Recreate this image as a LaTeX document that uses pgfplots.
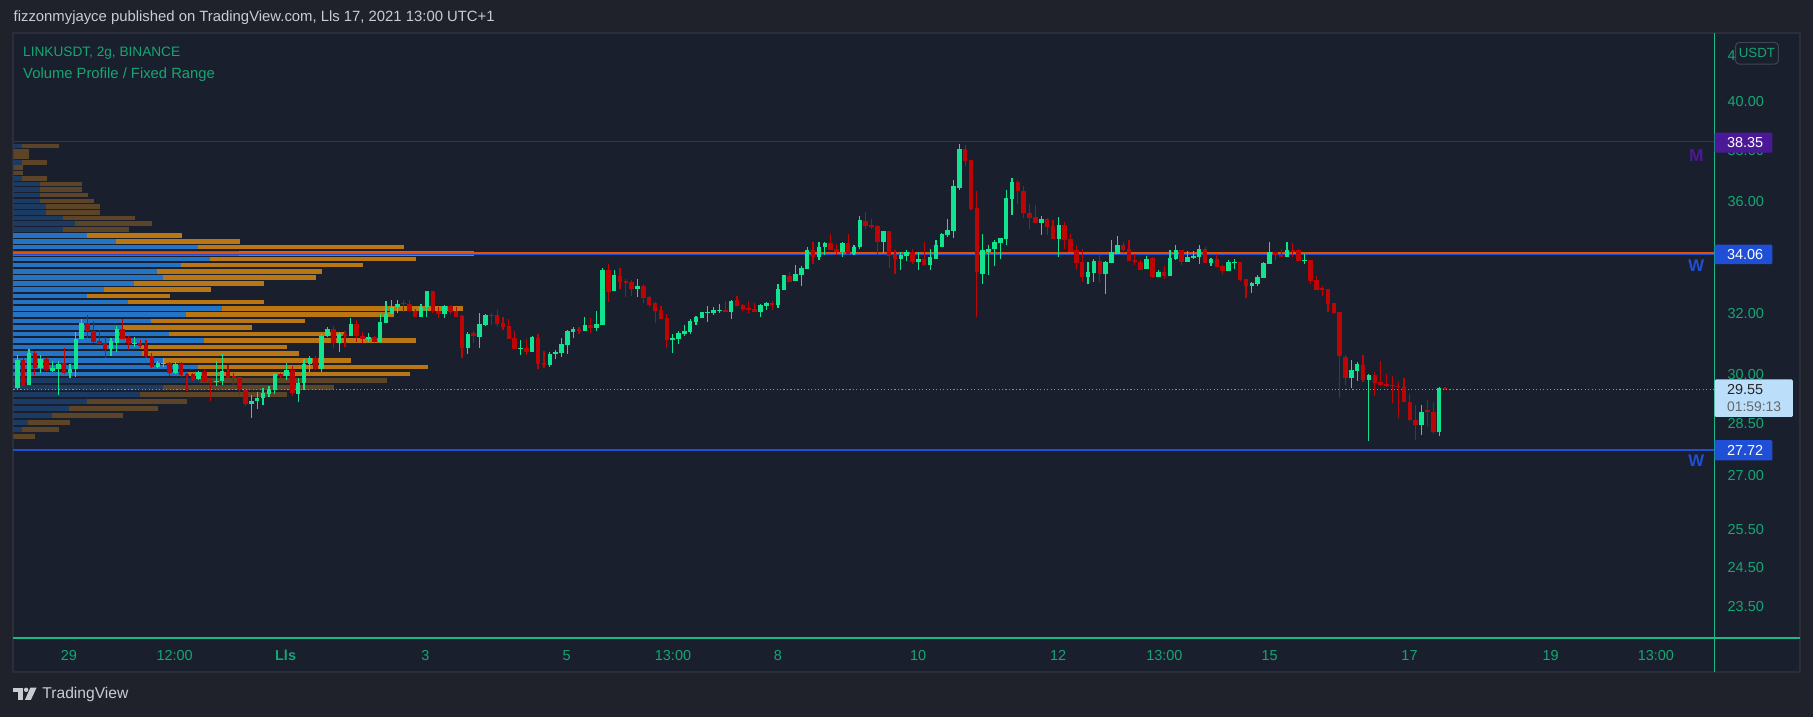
\documentclass[border=0pt]{standalone}
\usepackage{pgfplots}
\pgfplotsset{compat=1.18}
\usepackage{pgfplotstable}
\usepackage{fontspec}
\setmainfont{Liberation Sans}
\definecolor{outerbg}{HTML}{1F222B}
\definecolor{panebg}{HTML}{1A1F2E}
\definecolor{paneborder}{HTML}{2A2E39}
\definecolor{cgreen}{HTML}{10E48E}
\definecolor{cred}{HTML}{BE0505}
\definecolor{axgreen}{HTML}{1DB887}
\definecolor{tickgreen}{HTML}{14A673}
\definecolor{vpblue}{HTML}{2474C6}
\definecolor{vporange}{HTML}{BA7612}
\definecolor{vpblued}{HTML}{1C3B63}
\definecolor{vporanged}{HTML}{5B4427}
\definecolor{lpurple}{HTML}{4B1996}
\definecolor{lblue}{HTML}{1F4FD6}
\definecolor{lorange}{HTML}{E65100}
\definecolor{dotgray}{HTML}{8A8E99}
\definecolor{titlegray}{HTML}{C9CCD3}
\definecolor{curbox}{HTML}{BBDEFB}
\definecolor{boxborder}{HTML}{434651}

\pgfplotstableread{
i o h l c
0 29.59 30.64 29.54 30.48
1 30.48 30.53 29.59 29.64
2 29.69 30.82 29.69 30.69
3 30.69 30.77 30.00 30.21
4 30.21 30.63 30.07 30.50
5 30.50 30.55 30.14 30.16
6 30.14 30.44 30.11 30.23
7 30.19 30.44 29.36 30.34
8 30.37 30.87 30.02 30.07
9 30.07 30.34 29.90 30.19
10 30.18 31.39 29.95 31.16
11 31.15 31.82 31.15 31.67
12 31.67 31.94 31.19 31.42
13 31.42 31.75 31.02 31.06
14 31.08 31.46 30.98 31.00
15 31.02 31.22 30.55 30.83
16 30.83 31.19 30.61 31.09
17 31.04 31.59 30.72 31.48
18 31.48 31.81 31.16 31.16
19 31.20 31.26 30.80 31.02
20 31.01 31.22 30.90 31.04
21 31.02 31.13 30.85 30.94
22 30.96 31.13 30.55 30.61
23 30.62 30.71 30.23 30.26
24 30.26 30.44 30.21 30.37
25 30.34 30.53 30.26 30.39
26 30.37 30.40 29.98 30.07
27 30.07 30.40 30.03 30.34
28 30.34 30.40 29.93 30.00
29 30.02 30.07 29.49 29.98
30 30.02 30.07 29.80 29.88
31 29.87 30.14 29.85 30.08
32 30.08 30.16 29.78 29.78
33 29.82 29.90 29.18 29.78
34 29.77 30.44 29.64 29.80
35 29.80 30.67 29.69 30.13
36 30.08 30.32 29.90 29.92
37 29.97 30.05 29.69 29.92
38 29.93 29.93 29.38 29.52
39 29.54 29.56 29.03 29.09
40 29.11 29.38 28.67 29.20
41 29.18 29.47 28.95 29.29
42 29.27 29.59 29.06 29.44
43 29.42 29.66 29.30 29.54
44 29.52 30.07 29.42 30.04
45 30.04 30.07 29.90 29.98
46 29.98 30.37 29.85 30.16
47 30.16 30.29 29.33 29.43
48 29.42 29.90 29.15 29.75
49 29.75 30.50 29.54 30.34
50 30.34 30.61 30.08 30.53
51 30.53 30.61 30.16 30.20
52 30.20 31.33 30.08 31.26
53 31.26 31.55 31.21 31.48
54 31.48 31.59 30.88 31.04
55 31.02 31.38 30.75 31.32
56 31.33 31.42 30.91 31.27
57 31.27 31.84 31.27 31.65
58 31.65 31.79 31.07 31.27
59 31.27 31.38 31.02 31.16
60 31.16 31.35 31.05 31.22
61 31.22 31.26 31.05 31.07
62 31.07 31.99 31.01 31.72
63 31.70 32.43 31.70 31.99
64 31.98 32.46 31.98 32.24
65 32.23 32.46 32.03 32.32
66 32.35 32.46 32.05 32.31
67 32.32 32.46 32.05 32.08
68 32.10 32.17 31.87 31.90
69 31.90 32.34 31.88 32.24
70 32.23 32.76 31.90 32.76
71 32.76 32.78 32.02 32.08
72 32.10 32.23 31.84 31.99
73 32.00 32.30 31.86 32.27
74 32.25 32.30 31.99 32.07
75 32.09 32.23 31.87 31.90
76 31.92 31.97 30.55 30.85
77 30.85 31.37 30.67 31.33
78 31.34 31.43 31.02 31.24
79 31.21 32.02 30.88 31.65
80 31.62 31.99 31.57 31.94
81 31.96 32.02 31.63 31.94
82 31.94 32.12 31.56 31.65
83 31.67 31.87 31.44 31.56
84 31.59 31.82 31.16 31.16
85 31.19 31.43 30.83 30.83
86 30.85 31.13 30.64 30.87
87 30.86 31.16 30.64 30.74
88 30.74 31.24 30.73 31.23
89 31.20 31.33 30.19 30.36
90 30.38 30.77 30.23 30.32
91 30.32 30.75 30.26 30.67
92 30.68 30.80 30.50 30.74
93 30.70 31.19 30.58 31.00
94 30.97 31.44 30.67 31.43
95 31.40 31.54 31.20 31.49
96 31.49 31.56 31.31 31.43
97 31.43 31.88 31.43 31.62
98 31.62 31.85 31.34 31.53
99 31.53 32.08 31.43 31.65
100 31.62 33.56 31.62 33.49
101 33.49 33.71 32.40 32.74
102 32.76 33.49 32.76 33.32
103 33.29 33.56 32.84 33.08
104 33.12 33.20 32.57 33.05
105 33.08 33.15 32.59 32.84
106 32.84 33.18 32.56 32.94
107 32.94 33.01 32.37 32.54
108 32.56 32.59 32.23 32.28
109 32.35 32.39 31.70 32.08
110 32.12 32.25 31.82 31.82
111 31.85 31.99 30.87 31.11
112 31.11 31.31 30.71 31.20
113 31.16 31.43 31.00 31.36
114 31.33 31.62 31.24 31.43
115 31.39 31.82 31.33 31.76
116 31.73 31.92 31.62 31.89
117 31.85 32.05 31.85 32.05
118 32.02 32.25 31.72 32.05
119 32.03 32.22 31.95 32.12
120 32.10 32.32 32.03 32.12
121 32.12 32.42 32.05 32.06
122 32.06 32.46 31.82 32.42
123 32.46 32.59 32.25 32.25
124 32.29 32.34 32.10 32.15
125 32.20 32.42 32.02 32.12
126 32.15 32.35 32.05 32.05
127 32.05 32.33 31.88 32.28
128 32.25 32.38 32.12 32.36
129 32.35 32.42 32.12 32.28
130 32.28 33.00 32.19 32.83
131 32.80 33.32 32.80 33.32
132 33.28 33.42 33.08 33.09
133 33.11 33.67 33.11 33.35
134 33.32 33.63 32.94 33.56
135 33.53 34.31 33.53 34.20
136 34.20 34.49 33.70 33.95
137 33.95 34.52 33.84 34.34
138 34.31 34.49 34.03 34.45
139 34.45 34.81 34.20 34.20
140 34.24 34.42 34.03 34.16
141 34.16 34.52 33.96 34.45
142 34.45 34.78 34.06 34.06
143 34.06 34.38 34.02 34.34
144 34.31 35.48 34.27 35.33
145 35.29 35.60 35.00 35.11
146 35.14 35.36 35.00 35.07
147 35.11 35.14 34.02 34.52
148 34.52 34.92 34.10 34.92
149 34.89 34.89 33.56 33.99
150 34.02 34.20 33.35 33.91
151 33.91 34.13 33.49 34.02
152 33.99 34.20 33.81 34.13
153 34.13 34.24 33.70 33.77
154 33.77 34.13 33.49 33.91
155 33.91 34.49 33.63 33.67
156 33.67 34.24 33.49 33.95
157 33.91 34.56 33.91 34.38
158 34.34 34.85 34.34 34.81
159 34.77 35.36 34.70 34.96
160 34.92 36.85 34.67 36.58
161 36.54 38.27 36.46 38.06
162 38.06 38.23 37.39 37.59
163 37.63 37.63 35.70 35.74
164 35.78 36.39 31.88 33.42
165 33.38 34.81 33.00 34.20
166 34.16 34.38 33.32 34.27
167 34.24 34.56 33.63 34.49
168 34.45 34.67 33.91 34.67
169 34.63 36.46 34.41 36.16
170 36.12 36.92 35.52 36.76
171 36.76 36.85 35.93 36.39
172 36.42 36.61 35.40 35.56
173 35.56 35.93 34.99 35.40
174 35.44 35.86 35.22 35.22
175 35.22 35.48 34.77 35.36
176 35.36 35.40 34.77 35.07
177 35.11 35.33 34.63 34.63
178 34.63 35.44 33.95 35.14
179 35.14 35.25 34.27 34.56
180 34.60 34.78 34.16 34.16
181 34.20 34.41 33.49 33.74
182 33.77 34.24 33.07 33.25
183 33.25 33.77 33.00 33.42
184 33.39 33.91 33.09 33.81
185 33.81 34.02 33.09 33.35
186 33.35 33.81 32.66 33.77
187 33.74 34.56 33.74 34.13
188 34.09 34.74 34.09 34.38
189 34.38 34.49 34.10 34.20
190 34.24 34.56 33.81 33.81
191 33.84 34.09 33.67 33.77
192 33.77 33.84 33.49 33.49
193 33.53 33.99 33.53 33.91
194 33.92 33.96 33.24 33.26
195 33.26 33.52 33.26 33.42
196 33.42 33.63 33.19 33.30
197 33.30 34.22 33.30 33.92
198 33.89 34.41 33.85 34.20
199 34.20 34.20 33.67 33.79
200 33.79 34.19 33.79 33.95
201 33.94 34.19 33.90 33.99
202 33.96 34.41 33.71 34.27
203 34.27 34.31 33.74 33.74
204 33.74 33.92 33.65 33.88
205 33.88 34.06 33.61 33.61
206 33.63 33.67 33.37 33.47
207 33.47 33.84 33.47 33.77
208 33.75 33.88 33.53 33.77
209 33.77 33.77 33.12 33.16
210 33.18 33.18 32.54 32.95
211 32.95 33.08 32.70 33.04
212 33.02 33.32 32.94 33.25
213 33.23 33.77 33.23 33.74
214 33.71 34.49 33.71 34.13
215 34.13 34.16 33.86 34.02
216 34.03 34.24 33.96 33.96
217 33.96 34.49 33.96 34.20
218 34.20 34.45 33.95 34.16
219 34.20 34.24 33.82 33.82
220 33.82 34.09 33.70 33.85
221 33.85 33.85 33.03 33.12
222 33.15 33.29 32.81 32.81
223 32.87 32.94 32.60 32.81
224 32.84 32.84 32.04 32.33
225 32.36 32.36 31.99 32.01
226 32.04 32.04 29.27 30.59
227 30.58 30.64 29.67 29.92
228 29.92 30.48 29.58 30.16
229 30.14 30.42 29.82 30.35
230 30.32 30.64 29.79 29.85
231 29.85 30.04 28.00 30.00
232 30.00 30.10 29.33 29.76
233 29.79 30.45 29.64 29.70
234 29.73 30.04 29.61 29.64
235 29.67 29.98 29.12 29.64
236 29.64 29.79 28.66 29.61
237 29.63 29.91 29.15 29.15
238 29.17 29.41 28.57 28.60
239 28.62 29.06 28.03 28.45
240 28.45 29.06 28.15 28.86
241 28.90 29.21 28.42 28.84
242 28.86 29.15 28.18 28.24
243 28.24 29.63 28.12 29.60
244 29.60 29.63 29.53 29.55
}\candles

\pgfplotstableread{
p buy sell dim
38.17 27 110 1
37.96 0 47 1
37.75 0 47 1
37.53 27 74 1
37.32 0 29 1
37.10 0 29 1
36.89 27 74 1
36.68 81 125 1
36.46 81 125 1
36.25 81 143 1
36.03 81 161 1
35.82 99 161 1
35.60 99 161 1
35.39 150 215 1
35.18 186 230 1
34.96 150 197 1
34.75 222 284 0
34.53 309 371 0
34.32 555 617 0
34.10 677 705 0
33.89 591 617 0
33.68 504 545 0
33.46 432 494 0
33.25 450 458 0
33.03 363 389 0
32.82 273 320 0
32.60 222 248 0
32.39 345 407 0
32.18 627 722 0
31.96 519 622 0
31.75 414 461 0
31.53 330 386 0
31.32 468 528 0
31.11 573 635 0
30.89 380 441 0
30.68 385 472 0
30.46 450 563 0
30.25 555 689 0
30.03 520 670 0
29.82 560 561 1
29.61 450 512 1
29.39 381 440 1
29.18 222 299 1
28.96 168 266 1
28.75 117 212 1
28.53 45 125 1
28.32 27 110 1
28.11 0 65 1
}\vp

\begin{document}
\begin{tikzpicture}
\path[use as bounding box] (0pt,0pt) rectangle (1568pt,620pt);
\fill[outerbg] (0pt,0pt) rectangle (1568pt,620pt);
\fill[panebg] (11.6pt,39pt) rectangle (1556.5pt,591.2pt);
\draw[paneborder, line width=1.6pt] (11.6pt,39pt) rectangle (1556.5pt,591.2pt);

% title
\node[anchor=west, text=titlegray, inner sep=0pt, font=\fontsize{12.85}{14}\selectfont] at (11.6pt,605pt) {fizzonmyjayce published on TradingView.com, Lls 17, 2021 13:00 UTC+1};

% volume profile (horizontal bars drawn as x error bars from x=0)
\begin{axis}[at={(11.6pt,68.3pt)}, anchor=south west, scale only axis,
  width=1471.4pt, height=522.9pt, xmin=0, xmax=5104,
  ymode=log, ymin=22.75, ymax=42.98, hide axis, xtick=\empty, ytick=\empty]
\addplot[draw=none, mark=none, restrict expr to domain={\thisrow{dim}}{-0.5:0.5},
  error bars/.cd, x dir=plus, x explicit, error mark=none, error bar style={draw=vporange, line width=4pt}]
  table[y=p, x expr=0, x error plus expr={\thisrow{buy}+\thisrow{sell}}] {\vp};
\addplot[draw=none, mark=none, restrict expr to domain={\thisrow{dim}}{0.5:1.5},
  error bars/.cd, x dir=plus, x explicit, error mark=none, error bar style={draw=vporanged, line width=4pt}]
  table[y=p, x expr=0, x error plus expr={\thisrow{buy}+\thisrow{sell}}] {\vp};
\addplot[draw=none, mark=none, restrict expr to domain={\thisrow{dim}}{-0.5:0.5},
  error bars/.cd, x dir=plus, x explicit, error mark=none, error bar style={draw=vpblue, line width=4pt}]
  table[y=p, x expr=0, x error plus=buy] {\vp};
\addplot[draw=none, mark=none, restrict expr to domain={\thisrow{dim}}{0.5:1.5},
  error bars/.cd, x dir=plus, x explicit, error mark=none, error bar style={draw=vpblued, line width=4pt}]
  table[y=p, x expr=0, x error plus=buy] {\vp};
\end{axis}

% candles
\begin{axis}[at={(11.6pt,68.3pt)}, anchor=south west, scale only axis,
  width=1471.4pt, height=522.9pt, xmin=-0.67, xmax=290.1,
  ymode=log, ymin=22.75, ymax=42.98,
  axis line style={draw=none}, major tick length=0pt, clip=false,
  xtick={8.81,26.88,45.85,69.76,93.87,112.06,129.98,153.95,177.87,196.05,214.03,237.94,262.06,280.04},
  xticklabels={29,12:00,\textbf{Lls},3,5,13:00,8,10,12,13:00,15,17,19,13:00},
  ytick={23.5,24.5,25.5,27,28.5,30,32,34,36,38,40,42},
  yticklabels={23.50,24.50,25.50,27.00,28.50,30.00,32.00,34.00,36.00,38.00,40.00,42.00},
  minor ytick={}, yticklabel pos=right,
  xticklabel style={text=tickgreen, font=\fontsize{12.5}{14}\selectfont, anchor=center, yshift=-15.3pt},
  yticklabel style={text=tickgreen, font=\fontsize{12.5}{14}\selectfont, anchor=west, inner sep=0pt, xshift=11pt},
  ]
\addplot[lpurple, line width=1.4pt] coordinates {(-0.67,38.35) (290.1,38.35)};
\addplot[lblue, line width=1.2pt] coordinates {(-0.67,34.05) (290.1,34.05)};
\addplot[lorange, line width=2pt] coordinates {(-0.67,34.12) (290.1,34.12)};
\addplot[lblue, line width=1.3pt] coordinates {(-0.67,27.72) (290.1,27.72)};
\addplot[dotgray, line width=0.8pt, dash pattern=on 1pt off 2pt] coordinates {(-0.67,29.55) (290.1,29.55)};
% wicks
\addplot[draw=none, mark=none, restrict expr to domain={\thisrow{c}-\thisrow{o}}{0.001:100},
  error bars/.cd, y dir=plus, y explicit, error mark=none, error bar style={draw=cgreen, line width=1pt}]
  table[x=i, y=l, y error plus expr={\thisrow{h}-\thisrow{l}}] {\candles};
\addplot[draw=none, mark=none, restrict expr to domain={\thisrow{o}-\thisrow{c}}{0.001:100},
  error bars/.cd, y dir=plus, y explicit, error mark=none, error bar style={draw=cred, line width=1pt}]
  table[x=i, y=l, y error plus expr={\thisrow{h}-\thisrow{l}}] {\candles};
% bodies
\addplot[draw=none, mark=none, restrict expr to domain={\thisrow{c}-\thisrow{o}}{0.001:100},
  error bars/.cd, y dir=plus, y explicit, error mark=none, error bar style={draw=cgreen, line width=3.9pt}]
  table[x=i, y=o, y error plus expr={\thisrow{c}-\thisrow{o}}] {\candles};
\addplot[draw=none, mark=none, restrict expr to domain={\thisrow{o}-\thisrow{c}}{0.001:100},
  error bars/.cd, y dir=plus, y explicit, error mark=none, error bar style={draw=cred, line width=3.9pt}]
  table[x=i, y=c, y error plus expr={\thisrow{o}-\thisrow{c}}] {\candles};
\end{axis}

% scale separators
\draw[axgreen, line width=1.1pt] (1483pt,39pt) -- (1483pt,591.2pt);
\draw[axgreen, line width=1.1pt] (11.6pt,68.3pt) -- (1556.5pt,68.3pt);

% legend texts
\node[anchor=west, text=tickgreen, inner sep=0pt, font=\fontsize{11.8}{14}\selectfont] at (19.9pt,573.9pt) {LINKUSDT, 2g, BINANCE};
\node[anchor=west, text=tickgreen, inner sep=0pt, font=\fontsize{12.8}{14}\selectfont] at (19.9pt,555.1pt) {Volume Profile / Fixed Range};

% line labels
\node[text=lpurple, font=\bfseries\fontsize{15}{16}\selectfont, inner sep=0pt] at (1467pt,485.4pt) {M};
\node[text=lblue, font=\bfseries\fontsize{14.5}{16}\selectfont, inner sep=0pt] at (1467pt,390.6pt) {W};
\node[text=lblue, font=\bfseries\fontsize{14.5}{16}\selectfont, inner sep=0pt] at (1467pt,221.4pt) {W};

% price boxes
\fill[lpurple, rounded corners=1pt] (1483pt,487.9pt) rectangle (1532.8pt,505.3pt);
\node[anchor=west, text=white, inner sep=0pt, font=\fontsize{12.5}{14}\selectfont] at (1493.5pt,496.6pt) {38.35};
\fill[lblue, rounded corners=1pt] (1483pt,391.5pt) rectangle (1532.8pt,408.5pt);
\node[anchor=west, text=white, inner sep=0pt, font=\fontsize{12.5}{14}\selectfont] at (1493.5pt,400pt) {34.06};
\fill[lblue, rounded corners=1pt] (1483pt,221.8pt) rectangle (1532.8pt,239.3pt);
\node[anchor=west, text=white, inner sep=0pt, font=\fontsize{12.5}{14}\selectfont] at (1493.5pt,230.6pt) {27.72};
\fill[curbox, rounded corners=1pt] (1483pt,259.4pt) rectangle (1550.5pt,291.8pt);
\node[anchor=west, text=black!85, inner sep=0pt, font=\fontsize{12.5}{14}\selectfont] at (1493.5pt,283.1pt) {29.55};
\node[anchor=west, text=black!60, inner sep=0pt, font=\fontsize{12}{14}\selectfont] at (1493.5pt,268.1pt) {01:59:13};
\filldraw[fill=panebg, draw=boxborder, line width=0.8pt, rounded corners=3pt] (1501pt,564.6pt) rectangle (1538pt,583.2pt);
\node[text=tickgreen, inner sep=0pt, font=\fontsize{11.5}{13}\selectfont] at (1519.5pt,573.9pt) {USDT};

% TradingView logo
\fill[titlegray] (11pt,25.2pt) rectangle (19.8pt,21.6pt);
\fill[titlegray] (15.2pt,21.6pt) rectangle (19.8pt,14.8pt);
\fill[titlegray] (22.6pt,23.4pt) circle (1.9pt);
\fill[titlegray] (26.2pt,25.2pt) -- (31.6pt,25.2pt) -- (26.8pt,14.8pt) -- (21.6pt,14.8pt) -- cycle;
\node[anchor=west, text=titlegray, inner sep=0pt, font=\fontsize{13.5}{15}\selectfont] at (36.5pt,19.5pt) {TradingView};
\end{tikzpicture}
\end{document}
